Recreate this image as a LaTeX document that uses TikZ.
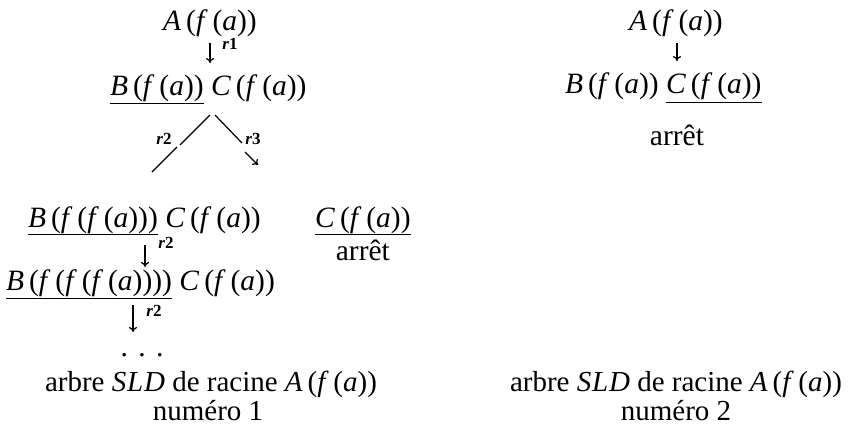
\documentclass[tikz,border=0pt]{standalone}
\usepackage{fontspec}
\setmainfont{Liberation Serif}
\usetikzlibrary{arrows.meta}
\newcommand{\fx}[1]{\textit{f}\,(#1)}
\newcommand{\va}{\textit{a}}
\begin{document}
\begin{tikzpicture}[x=1pt,y=-1pt,
  every node/.style={inner sep=0pt,font=\fontsize{29.5}{35}\selectfont},
  txt/.style={anchor=base},
  lft/.style={anchor=base west},
  captxt/.style={anchor=base,font=\fontsize{29}{34}\selectfont},
  lab/.style={inner sep=0pt,font=\fontsize{17}{20}\selectfont\bfseries},
  arr/.style={line width=1.2pt,-{To[length=5pt,width=8pt]}},
  lin/.style={line width=1.2pt},
  ul/.style={line width=1pt}]
\useasboundingbox (0,0) rectangle (855,434);
% ---------------- left tree
\node[txt] (A1) at (210,30) {\textit{A}\,(\fx{\va})};
\node[lft] (B1) at (110,95) {\textit{B}\,(\fx{\va})};
\node[lft] (C1) at ([xshift=7pt]B1.base east) {\textit{C}\,(\fx{\va})};
\draw[ul] ([yshift=-8pt]B1.base west) -- ([yshift=-8pt]B1.base east);
\coordinate (k1) at (210,0);
\draw[arr,shorten <=7pt,shorten >=11pt] (A1.south -| k1) -- (k1 |- B1.north);
\node[lab] (r1) at (230,44) {\textit{r}1};
% branches
\coordinate (apl) at (210,115);
\coordinate (apr) at (215,115);
\coordinate (gl1) at (180,145);
\coordinate (gl2) at (177,147);
\coordinate (endl) at (152,172);
\coordinate (endr1) at (242,143);
\coordinate (ars) at (245,152);
\coordinate (are) at (258,165);
\draw[lin] (apl) -- (gl1);
\draw[lin] (gl2) -- (endl);
\draw[lin] (apr) -- (endr1);
\draw[arr] (ars) -- (are);
\node[lab] (r2a) at (164,139) {\textit{r}2};
\node[lab] (r3) at (253,139) {\textit{r}3};
% second level
\node[lft] (B2) at (28,227) {\textit{B}\,(\fx{\fx{\va}})};
\node[lft] (C2) at ([xshift=7pt]B2.base east) {\textit{C}\,(\fx{\va})};
\draw[ul] ([yshift=-7pt]B2.base west) -- ([yshift=-7pt]B2.base east);
\node[lft] (Cr) at (315,227) {\textit{C}\,(\fx{\va})};
\draw[ul] ([yshift=-7pt]Cr.base west) -- ([yshift=-7pt]Cr.base east);
\node[txt] (stop1) at (Cr.base |- 0,260) {arrêt};
\coordinate (k2) at (145,0);
\draw[arr,shorten <=12pt,shorten >=2pt] (B2.south -| k2) -- (k2 |- 0,269);
\node[lab] (r2b) at (166,243) {\textit{r}2};
% third level
\node[lft] (B3) at (6,290) {\textit{B}\,(\fx{\fx{\fx{\va}}})};
\node[lft] (C3) at ([xshift=7pt]B3.base east) {\textit{C}\,(\fx{\va})};
\draw[ul] ([yshift=-8pt]B3.base west) -- ([yshift=-8pt]B3.base east);
\node[txt] (dots) at (142,356) {.\hspace{0.35em}.\hspace{0.35em}.};
\coordinate (k3) at (133,0);
\draw[arr] (k3 |- 0,305) -- (k3 |- 0,332);
\node[lab] (r2c) at (154,311) {\textit{r}2};
% caption left
\node[captxt] (cap1) at (211,391) {arbre \textit{S\kern0.8pt L\kern0.8pt D} de racine \textit{A}\,(\fx{\va})};
\node[captxt] (num1) at (208,420) {numéro 1};
% ---------------- right tree
\node[txt] (A2) at (676,30) {\textit{A}\,(\fx{\va})};
\node[lft] (B4) at (565,93) {\textit{B}\,(\fx{\va})};
\node[lft] (C4) at ([xshift=7pt]B4.base east) {\textit{C}\,(\fx{\va})};
\draw[ul] ([yshift=-9pt]C4.base west) -- ([yshift=-9pt]C4.base east);
\coordinate (k4) at (677,0);
\draw[arr,shorten <=7pt,shorten >=11pt] (A2.south -| k4) -- (k4 |- B4.north);
\node[txt] (stop2) at (677,145) {arrêt};
\node[captxt] (cap2) at (676,391) {arbre \textit{S\kern0.8pt L\kern0.8pt D} de racine \textit{A}\,(\fx{\va})};
\node[captxt] (num2) at (676,420) {numéro 2};
\end{tikzpicture}
\end{document}
